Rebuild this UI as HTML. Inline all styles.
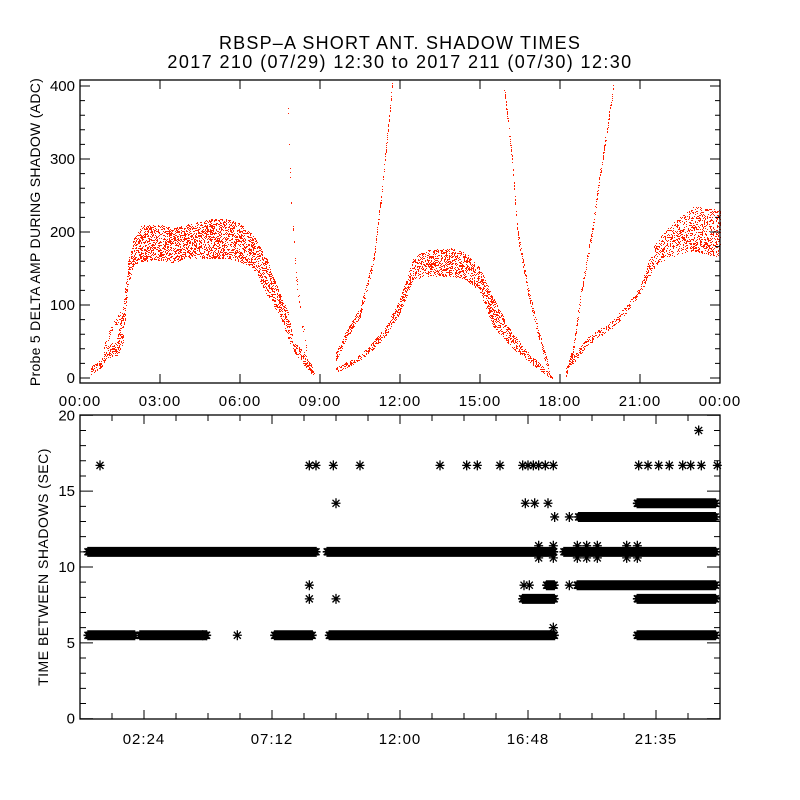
<!DOCTYPE html>
<html><head><meta charset="utf-8"><style>
body{margin:0;background:#fff}
svg{display:block;font-family:"Liberation Sans",sans-serif}
</style></head><body>
<svg id="chart" width="800" height="800" viewBox="0 0 800 800" xmlns="http://www.w3.org/2000/svg">
<rect width="800" height="800" fill="#fff"/>
<text x="400" y="49" font-size="18" letter-spacing="1.2" text-anchor="middle">RBSP–A SHORT ANT. SHADOW TIMES</text>
<text x="400" y="68" font-size="18" letter-spacing="1.4" text-anchor="middle">2017 210 (07/29) 12:30 to 2017 211 (07/30) 12:30</text>
<text transform="translate(40,232) rotate(-90)" font-size="14" letter-spacing="0.3" text-anchor="middle">Probe 5 DELTA AMP DURING SHADOW (ADC)</text>
<text transform="translate(48,567) rotate(-90)" font-size="14" letter-spacing="0.5" text-anchor="middle">TIME BETWEEN SHADOWS (SEC)</text>
<g id="topPanel"></g>
<g id="botPanel"></g>
</svg>
<script>
// ---- top panel data: envelope series (hours, low, high) ----
const plateau1Hours=[0.4,0.8,1.0,1.4,1.6,1.8,2.0,2.3,3.0,3.5,4.0,5.0,5.5,6.0,6.5,7.0,7.5,7.8,8.0,8.4,8.8];
const plateau1Low=[5,15,28,32,45,125,155,160,162,158,165,165,165,160,150,115,85,55,38,18,2];
const plateau1High=[15,25,42,55,95,160,190,210,210,205,210,218,218,212,195,165,115,90,50,35,10];
const upperEarlyHours=[0.9,1.1,1.3,1.5];
const upperEarlyVals=[40,60,75,85];
const spikeHours=[7.8,7.9,8.0,8.1,8.3,8.5];
const spikeVals=[370,250,200,140,80,40];
const lowBranchHours=[9.6,10.0,10.5,11.0,11.5,12.0,12.5,13.0,14.0,14.5,15.0,15.5,16.0,16.5,17.0,17.5,17.7];
const lowBranchLow=[8,15,25,40,60,90,135,140,140,135,118,70,50,32,18,4,0];
const lowBranchHigh=[14,22,32,50,72,110,165,175,178,170,150,110,75,48,28,10,3];
const upBranchHours=[9.6,10.0,10.5,11.0,11.3,11.7];
const upBranchVals=[30,60,90,160,250,400];
const descHours=[15.9,16.2,16.4,16.8,17.2,17.6];
const descVals=[400,300,200,120,60,8];
const riseHours=[18.2,18.5,18.8,19.2,19.5,19.8,20.0];
const riseVals=[5,40,120,200,280,350,400];
const lateHours=[18.4,19.0,20.0,20.5,21.0,21.5,22.0,23.0,24.0];
const lateLow=[15,45,70,90,115,150,165,175,165];
const lateHigh=[25,55,80,100,125,180,205,235,230];
const topYTicks=[0,100,200,300,400];
const topXLabels=["00:00","03:00","06:00","09:00","12:00","15:00","18:00","21:00","00:00"];
// ---- bottom panel data: bands (value, start hour, end hour) and single points ----
const bandValues=[11.0,11.0,11.0,5.5,5.5,5.5,5.5,5.5,14.2,13.3,8.8,8.8,7.9,7.9];
const bandStart=[0.3,9.27,18.15,0.3,2.25,7.3,9.35,20.9,20.9,18.7,18.65,17.5,16.6,20.9];
const bandEnd=[9.0,17.96,24.0,2.2,4.9,8.9,17.95,24.0,24.0,24.0,24.0,17.95,17.95,24.0];
const singleHours=[0.75,8.6,8.85,9.5,10.5,13.5,14.5,14.9,15.75,16.6,16.8,17.0,17.2,17.45,17.75,20.95,21.3,21.7,22.1,22.6,22.9,23.3,23.9,9.6,8.6,8.6,9.6,16.7,17.05,17.55,17.8,18.35,16.65,16.85,18.35,17.2,17.75,18.65,19.0,19.4,20.5,20.9,17.2,17.75,18.65,19.0,19.4,20.5,20.9,23.2,17.75,4.6,4.75,5.9];
const singleVals=[16.7,16.7,16.7,16.7,16.7,16.7,16.7,16.7,16.7,16.7,16.7,16.7,16.7,16.7,16.7,16.7,16.7,16.7,16.7,16.7,16.7,16.7,16.7,14.2,8.8,7.9,7.9,14.2,14.2,14.2,13.3,13.3,8.8,8.8,8.8,11.4,11.4,11.4,11.4,11.4,11.4,11.4,10.6,10.6,10.6,10.6,10.6,10.6,10.6,19.0,6.0,5.5,5.5,5.5];
const botYTicks=[0,5,10,15,20];
const botXLabelHours=[2.4,7.2,12.0,16.8,21.6];
const botXLabels=["02:24","07:12","12:00","16:48","21:35"];

const NS="http://www.w3.org/2000/svg";
const X0=80,X1=720;
const xT=h=>X0+h*(X1-X0)/24;
const yT=v=>378-v*0.73;
const yB=v=>718.7-v*15.17;
const topG=document.getElementById('topPanel'),botG=document.getElementById('botPanel');
function mk(tag,attrs,parent){const e=document.createElementNS(NS,tag);for(const k in attrs)e.setAttribute(k,attrs[k]);parent.appendChild(e);return e;}
function interp(hs,vs,h){for(let i=0;i<hs.length-1;i++){if(h>=hs[i]&&h<=hs[i+1]){const t=(h-hs[i])/(hs[i+1]-hs[i]);return vs[i]+t*(vs[i+1]-vs[i]);}}return null;}
function hash(a,b){let n=(a*374761393+b*668265263)|0;n=Math.imul(n^(n>>>13),1274126177);return ((n^(n>>>16))>>>0)%100;}
function band(hs,lo,hi,dens,name){
  const g=mk('g',{fill:'#ff2000','shape-rendering':'crispEdges'},topG);
  
  
  let d='';
  const xa=Math.ceil(xT(hs[0])),xb=Math.floor(xT(hs[hs.length-1]));
  for(let x=xa;x<=xb;x++){
    const h=(x-X0)*24/(X1-X0);
    const l=interp(hs,lo,h),u=interp(hs,hi,h);
    if(l===null)continue;
    const y1=Math.max(81,Math.round(yT(u))),y2=Math.min(382,Math.round(yT(l)));
    for(let y=y1;y<=y2;y++){if(hash(x,y)<dens)d+='M'+x+' '+y+'h1v1h-1z';}
  }
  mk('path',{d:d},g);
}
function curve(hs,vs,w,dens,name){
  const lo=vs.map(v=>v-w),hi=vs.map(v=>v+w);
  band(hs,lo,hi,dens,name);
}
band(plateau1Hours,plateau1Low,plateau1High,40,'series-morning-plateau');
curve(upperEarlyHours,upperEarlyVals,5,35,'series-early-upper');
curve(spikeHours,spikeVals,7,20,'series-spike');
band(lowBranchHours,lowBranchLow,lowBranchHigh,40,'series-midday-plateau');
curve(upBranchHours,upBranchVals,6,45,'series-rising-branch');
curve(descHours,descVals,6,45,'series-descending-branch');
curve(riseHours,riseVals,6,45,'series-evening-rise');
band(lateHours,lateLow,lateHigh,32,'series-late-plateau');

// ---- top axes ----
function axisBox(g,y0,y1,name){const r=mk('rect',{x:X0,y:y0,width:X1-X0,height:y1-y0,fill:'none',stroke:'#000','stroke-width':1.3},g);}
axisBox(topG,80,383,'top-plot-frame');
let td='';
for(let v=0;v<=400;v+=20){const y=yT(v);const L=v%100===0?10:5;td+=`M${X0} ${y}h${L}M${X1} ${y}h${-L}`;}
for(let h=0;h<=24;h+=3){const x=xT(h);td+=`M${x} 383v-9M${x} 80v9`;}
mk('path',{d:td,stroke:'#000','stroke-width':1,fill:'none'},topG);
topYTicks.forEach(v=>{const t=mk('text',{x:75,y:yT(v)+5,'font-size':15,'text-anchor':'end'},topG);t.textContent=v;

});
topXLabels.forEach((s,i)=>{const t=mk('text',{x:xT(i*3),y:406,'font-size':15,'letter-spacing':1,'text-anchor':'middle'},topG);t.textContent=s;

});

// ---- bottom panel ----
function star(x,y){return `M${x-4.5} ${y}h9M${x} ${y-5}v10M${x-3.5} ${y-3.5}l7 7M${x-3.5} ${y+3.5}l7 -7`;}
let sd='';
bandValues.forEach((v,i)=>{const xa=xT(bandStart[i]),xb=xT(bandEnd[i])-4;for(let x=xa;x<=xb;x+=1.5)sd+=star(x,yB(v));});
const bp=mk('path',{d:sd,stroke:'#000','stroke-width':1.6,fill:'none'},botG);


let pd='';
singleHours.forEach((h,i)=>{pd+=star(xT(h),yB(singleVals[i]));});
const sp=mk('path',{d:pd,stroke:'#000','stroke-width':1.3,fill:'none'},botG);


axisBox(botG,415,719,'bottom-plot-frame');
let bd='';
for(let v=0;v<=20;v++){const y=yB(v);const L=v%5===0?13:6;bd+=`M${X0} ${y}h${L}M${X1} ${y}h${-L}`;}
for(let k=1;k<20;k++){const h=k*1.2,x=xT(h);const L=(k%4===2)?9:6;bd+=`M${x} 719v${-L}M${x} 415v${L}`;}
mk('path',{d:bd,stroke:'#000','stroke-width':1,fill:'none'},botG);
botYTicks.forEach(v=>{const t=mk('text',{x:75,y:yB(v)+5,'font-size':15,'text-anchor':'end'},botG);t.textContent=v;

});
botXLabelHours.forEach((h,i)=>{const t=mk('text',{x:xT(h),y:744,'font-size':15,'letter-spacing':1,'text-anchor':'middle'},botG);t.textContent=botXLabels[i];

});
</script>
</body></html>
